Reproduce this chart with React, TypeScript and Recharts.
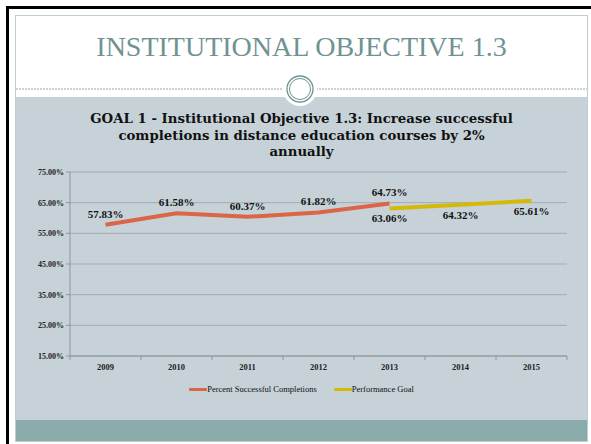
import React from 'react';
import { LineChart, Line, XAxis, YAxis, CartesianGrid, Legend, LabelList } from 'recharts';

const years = ['2009', '2010', '2011', '2012', '2013', '2014', '2015'];
const completions = [57.83, 61.58, 60.37, 61.82, 64.73, null, null];
const goal = [null, null, null, null, 63.06, 64.32, 65.61];
const yTicks = [15, 25, 35, 45, 55, 65, 75];
const seriesNames = ['Percent Successful Completions', 'Performance Goal'];
const chartTitleLines = [
  'GOAL 1 - Institutional Objective 1.3: Increase successful',
  'completions in distance education courses by 2%',
  'annually',
];
const slideTitle = 'INSTITUTIONAL OBJECTIVE 1.3';

const data = years.map((y, i) => ({ year: y, completions: completions[i], goal: goal[i] }));

const SERIF = '"Liberation Serif", "DejaVu Serif", serif';
const RED = '#dc6447';
const YELLOW = '#d5b908';
const PANEL = '#c6d2d8';
const BAND = '#8aacab';
const TEAL_TEXT = '#6f9292';
const GRID = '#a2abb1';
const AXIS = '#8e9498';

const pct = (v: any) => (v == null ? '' : `${Number(v).toFixed(2)}%`);

const XTick = (props: any) => {
  const { x, y, payload, index } = props;
  const half = payload && payload.offset ? payload.offset : 35.5;
  const axisY = y - 8;
  return (
    <g>
      <line x1={x - half} x2={x - half} y1={axisY} y2={axisY + 4} stroke={AXIS} />
      {index === years.length - 1 && (
        <line x1={x + half} x2={x + half} y1={axisY} y2={axisY + 4} stroke={AXIS} />
      )}
      <text x={x} y={y + 6} textAnchor="middle" fontFamily={SERIF} fontSize={8.5} fontWeight="bold" fill="#222">
        {payload.value}
      </text>
    </g>
  );
};

const LegendContent = () => (
  <div
    style={{
      display: 'flex',
      justifyContent: 'center',
      alignItems: 'center',
      fontFamily: SERIF,
      fontSize: 8.5,
      color: '#111',
      lineHeight: '10px',
      marginTop: -2,
    }}
  >
    {[RED, YELLOW].map((c, i) => (
      <div key={i} style={{ display: 'flex', alignItems: 'center', marginRight: i === 0 ? 17 : 0 }}>
        <div style={{ width: 18, height: 3, background: c, borderRadius: 1 }} />
        <span>{seriesNames[i]}</span>
      </div>
    ))}
  </div>
);

export default function App() {
  return (
    <div
      style={{
        position: 'absolute',
        left: 0,
        top: 0,
        width: 591,
        height: 444,
        overflow: 'hidden',
        background: '#fff',
      }}
    >
      {/* outer black border */}
      <div
        style={{
          position: 'absolute',
          left: 6,
          top: 6,
          width: 700,
          height: 600,
          borderLeft: '3px solid #000',
          borderTop: '3px solid #000',
        }}
      />
      {/* slide frame */}
      <div
        style={{
          position: 'absolute',
          left: 15,
          top: 15,
          width: 571,
          height: 425,
          border: '1px solid #bcd0d1',
          background: '#fff',
        }}
      />
      {/* gray panel */}
      <div style={{ position: 'absolute', left: 16, top: 97, width: 571, height: 323, background: PANEL }} />
      {/* teal band */}
      <div style={{ position: 'absolute', left: 16, top: 420, width: 571, height: 21, background: BAND }} />
      {/* title */}
      <div
        style={{
          position: 'absolute',
          left: 16,
          top: 30,
          width: 571,
          textAlign: 'center',
          fontFamily: SERIF,
          fontSize: 28,
          lineHeight: '34px',
          color: TEAL_TEXT,
        }}
      >
        {slideTitle}
      </div>
      {/* divider with circle */}
      <svg style={{ position: 'absolute', left: 0, top: 0 }} width={591} height={444}>
        <line x1={16} x2={587} y1={89} y2={89} stroke="#9aa2a4" strokeDasharray="2 1" strokeWidth={1} />
        <circle cx={300} cy={89} r={17} fill="#fff" />
        <circle cx={300} cy={89} r={13} fill="#fff" stroke={TEAL_TEXT} strokeWidth={1.3} />
        <circle cx={300} cy={89} r={10.5} fill="none" stroke={TEAL_TEXT} strokeWidth={1} />
      </svg>
      {/* chart title */}
      <div
        style={{
          position: 'absolute',
          left: 16,
          top: 111,
          width: 571,
          textAlign: 'center',
          fontFamily: '"DejaVu Serif", serif',
          fontWeight: 'bold',
          fontSize: 13.3,
          lineHeight: '16.5px',
          color: '#111',
        }}
      >
        {chartTitleLines.map((l, i) => (
          <div key={i}>{l}</div>
        ))}
      </div>
      {/* chart */}
      <div style={{ position: 'absolute', left: 16, top: 160 }}>
        <LineChart width={571} height={260} data={data} margin={{ top: 12, right: 20, left: 0, bottom: 4 }}>
          <CartesianGrid vertical={false} stroke={GRID} />
          <XAxis
            dataKey="year"
            scale="band"
            height={30}
            axisLine={{ stroke: AXIS }}
            tickLine={false}
            tick={<XTick />}
          />
          <YAxis
            width={54}
            domain={[15, 75]}
            ticks={yTicks}
            interval={0}
            tickFormatter={pct}
            axisLine={{ stroke: AXIS }}
            tickLine={{ stroke: AXIS }}
            tickSize={4}
            tick={{ fontFamily: SERIF, fontSize: 8, fontWeight: 'bold', fill: '#222' }}
          />
          <Legend
            verticalAlign="bottom"
            height={30}
            content={<LegendContent />}
            wrapperStyle={{ left: 0, width: 571 }}
          />
          <Line
            type="linear"
            dataKey="completions"
            name={seriesNames[0]}
            stroke={RED}
            strokeWidth={4}
            dot={false}
            isAnimationActive={false}
          >
            <LabelList
              dataKey="completions"
              position="top"
              offset={7}
              formatter={pct}
              style={{ fontFamily: SERIF, fontSize: 11, fontWeight: 'bold', fill: '#111' }}
            />
          </Line>
          <Line
            type="linear"
            dataKey="goal"
            name={seriesNames[1]}
            stroke={YELLOW}
            strokeWidth={4}
            dot={false}
            isAnimationActive={false}
          >
            <LabelList
              dataKey="goal"
              position="bottom"
              offset={6}
              formatter={pct}
              style={{ fontFamily: SERIF, fontSize: 11, fontWeight: 'bold', fill: '#111' }}
            />
          </Line>
        </LineChart>
      </div>
    </div>
  );
}
